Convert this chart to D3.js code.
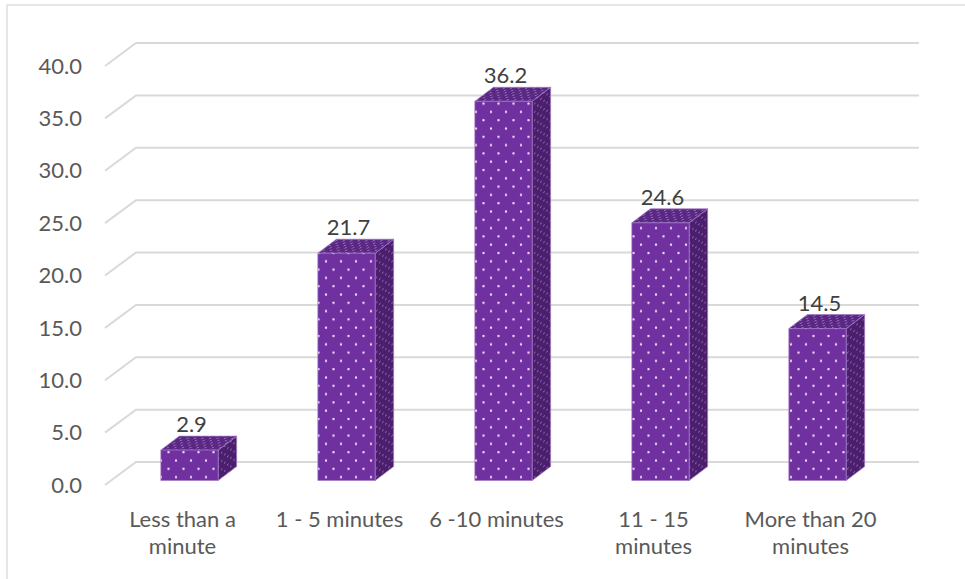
<!DOCTYPE html>
<html>
<head>
<meta charset="utf-8">
<script src="https://cdn.jsdelivr.net/npm/d3@7"></script>
<style>
  html, body { margin: 0; padding: 0; background: #ffffff; }
  svg { display: block; }
  text { font-family: Lato, "Open Sans", sans-serif; }
</style>
</head>
<body>
<svg id="chart" width="965" height="579"></svg>
<script>
// Time spent (share of respondents, %)
const categories = ["Less than a minute", "1 - 5 minutes", "6 -10 minutes", "11 - 15 minutes", "More than 20 minutes"];
const values = [2.9, 21.7, 36.2, 24.6, 14.5];
const yTicks = [0, 5, 10, 15, 20, 25, 30, 35, 40];

const W = 965, H = 579;
const svg = d3.select("#chart");

// Frame around the chart area
svg.append("rect")
  .attr("x", 7).attr("y", 5).attr("width", W + 10).attr("height", H + 10)
  .attr("fill", "none").attr("stroke", "#d9d9d9").attr("stroke-width", 1.3);

// Front plane scales; the back wall is shifted by the depth vector
const y = d3.scaleLinear().domain([0, 40]).range([485, 66]);
const x = d3.scaleBand().domain(categories).range([104, 889]).padding(0);
const wallDepth = { dx: 31, dy: -23 };
const wallRight = 919;

// Bars sit a little behind the front plane
const barShift = { dx: 7, dy: -4.5 };
const barDepth = { dx: 18.5, dy: -14 };
const barWidth = x.bandwidth() * 0.365;

// Dot patterns for the faces
const defs = svg.append("defs");
function dotPattern(id, w, h, dots, bg, dotColor, r, transform) {
  const p = defs.append("pattern")
    .attr("id", id).attr("patternUnits", "userSpaceOnUse")
    .attr("width", w).attr("height", h);
  if (transform) p.attr("patternTransform", transform);
  p.append("rect").attr("width", w).attr("height", h).attr("fill", bg);
  dots.forEach(([cx, cy]) => {
    p.append("rect").attr("x", cx - r).attr("y", cy - r)
      .attr("width", 2 * r).attr("height", 2 * r).attr("fill", dotColor);
  });
}
const sideAngle = Math.atan2(barDepth.dy, barDepth.dx) * 180 / Math.PI;
const topAngle = -Math.atan2(barDepth.dx, -barDepth.dy) * 180 / Math.PI;
dotPattern("dotsFront", 15, 16.6, [[3.5, 4], [11, 12.3]], "#7030a0", "#ecdff7", 1.05);
dotPattern("dotsSide", 6.2, 8.3, [[1.5, 2], [4.6, 6.2]], "#4b1f6e", "#8a68a8", 0.7, `skewY(${sideAngle})`);
dotPattern("dotsTop", 7.5, 4.7, [[1.8, 1.2], [5.5, 3.5]], "#5a2784", "#9d7fbf", 0.7, `skewX(${topAngle})`);

// Gridlines: short slanted floor segment then the back-wall line
const grid = svg.append("g").attr("fill", "none").attr("stroke", "#d9d9d9").attr("stroke-width", 2);
yTicks.forEach(t => {
  const x0 = x.range()[0] + 1, y0 = y(t);
  grid.append("path")
    .attr("d", d3.line()([[x0, y0], [x0 + wallDepth.dx, y0 + wallDepth.dy], [wallRight, y0 + wallDepth.dy]]));
});

// Value axis labels
svg.append("g").selectAll("text").data(yTicks).join("text")
  .attr("x", 82).attr("y", d => y(d)).attr("dy", "0.35em")
  .attr("text-anchor", "end").attr("font-size", 22).attr("fill", "#595959")
  .text(d => d3.format(".1f")(d));

// 3D columns
const bars = svg.append("g").attr("stroke", "#a27ac4").attr("stroke-width", 0.7).attr("stroke-linejoin", "round");
categories.forEach((c, i) => {
  const v = values[i];
  const cx = x(c) + x.bandwidth() / 2 + barShift.dx;
  const x0 = cx - barWidth / 2, x1 = cx + barWidth / 2;
  const yb = y(0) + barShift.dy, yt = y(v) + barShift.dy;
  const dx = barDepth.dx, dy = barDepth.dy;
  const line = d3.line();
  // side face
  bars.append("path").attr("fill", "url(#dotsSide)")
    .attr("d", line([[x1, yt], [x1 + dx, yt + dy], [x1 + dx, yb + dy], [x1, yb]]) + "Z");
  // top face
  bars.append("path").attr("fill", "url(#dotsTop)")
    .attr("d", line([[x0, yt], [x0 + dx, yt + dy], [x1 + dx, yt + dy], [x1, yt]]) + "Z");
  // front face
  bars.append("path").attr("fill", "url(#dotsFront)")
    .attr("d", line([[x0, yt], [x1, yt], [x1, yb], [x0, yb]]) + "Z");

  // value label above the column
  svg.append("text")
    .attr("x", cx + 2).attr("y", yt + dy - 4)
    .attr("text-anchor", "middle").attr("font-size", 22).attr("fill", "#404040")
    .text(d3.format(".1f")(v));
});

// Category labels, wrapped to the band width
const catSize = 22;
const catLineStep = 26.5;
const catG = svg.append("g");
categories.forEach(c => {
  const t = catG.append("text")
    .attr("x", x(c) + x.bandwidth() / 2).attr("y", 527)
    .attr("text-anchor", "middle").attr("font-size", catSize).attr("fill", "#595959");
  const words = c.split(" ");
  const maxW = x.bandwidth() * 0.9;
  let lines = [], cur = [];
  const probe = svg.append("text").attr("font-size", catSize).style("visibility", "hidden");
  words.forEach(w => {
    const trial = cur.concat([w]).join(" ");
    probe.text(trial);
    if (cur.length && probe.node().getComputedTextLength() > maxW) {
      lines.push(cur.join(" "));
      cur = [w];
    } else cur.push(w);
  });
  lines.push(cur.join(" "));
  probe.remove();
  lines.forEach((l, k) => {
    t.append("tspan").attr("x", x(c) + x.bandwidth() / 2).attr("dy", k === 0 ? 0 : catLineStep).text(l);
  });
});
</script>
</body>
</html>
